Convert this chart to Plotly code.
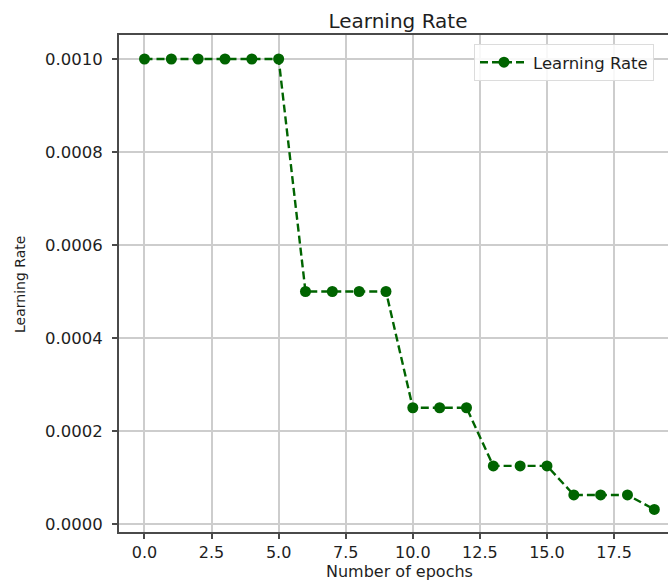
import plotly.graph_objects as go

# Learning-rate schedule per epoch (step decay, halved every few epochs)
epochs = list(range(20))
learning_rates = [0.001, 0.001, 0.001, 0.001, 0.001, 0.001,
                  0.0005, 0.0005, 0.0005, 0.0005,
                  0.00025, 0.00025, 0.00025,
                  0.000125, 0.000125, 0.000125,
                  0.0000625, 0.0000625, 0.0000625,
                  0.00003125]
x_ticks = [0.0, 2.5, 5.0, 7.5, 10.0, 12.5, 15.0, 17.5]
y_ticks = [0.0, 0.0002, 0.0004, 0.0006, 0.0008, 0.0010]

FONT = "DejaVu Sans"
TEXT = "#1e1e1e"
GREEN = "#006400"

W, H = 668, 582
ML, MT, MB = 119, 35, 50

fig = go.Figure()
fig.add_trace(go.Scatter(
    x=epochs, y=learning_rates, mode="lines+markers", name="Learning Rate",
    line=dict(color=GREEN, width=2.4, dash="8px,4px"),
    marker=dict(color=GREEN, size=11, symbol="circle"),
))

axis_common = dict(
    showgrid=True, gridcolor="#cdcdcd", gridwidth=1.5,
    showline=True, linecolor="#4a4a4a", linewidth=2,
    ticks="outside", ticklen=5, tickcolor="#4a4a4a", tickwidth=1.5,
    zeroline=False,
)

fig.update_layout(
    width=W, height=H,
    margin=dict(l=ML, r=0, t=MT, b=MB),
    paper_bgcolor="white", plot_bgcolor="white",
    font=dict(family=FONT, color=TEXT),
    showlegend=True,
    legend=dict(
        x=(474 - ML) / (W - ML), y=1 - (44 - MT) / (H - MT - MB),
        xanchor="left", yanchor="top", itemwidth=48,
        bgcolor="rgba(255,255,255,0.85)", bordercolor="#dcdcdc", borderwidth=1,
        font=dict(family=FONT, size=16.5, color=TEXT),
    ),
    xaxis=dict(
        range=[-0.95, 19.51], tickvals=x_ticks,
        ticktext=[f"{v:.1f}" for v in x_ticks],
        mirror=True, ticklabelstandoff=0,
        tickfont=dict(family=FONT, size=16, color=TEXT),
        **axis_common,
    ),
    yaxis=dict(
        range=[-0.0000172, 0.0010516], tickvals=y_ticks,
        ticktext=[f"{v:.4f}" for v in y_ticks],
        ticklabelstandoff=6,
        tickfont=dict(family=FONT, size=16.5, color=TEXT),
        **axis_common,
    ),
    title=dict(
        text="Learning Rate", x=398 / W, xanchor="center",
        y=1 - 21 / H, yanchor="middle", xref="container", yref="container",
        font=dict(family=FONT, size=20, color=TEXT),
    ),
)

# axis titles
fig.add_annotation(
    text="Number of epochs", xref="paper", yref="paper",
    x=(399 - ML) / (W - ML), y=-(571 - (H - MB)) / (H - MT - MB),
    xanchor="center", yanchor="middle", showarrow=False,
    font=dict(family=FONT, size=16, color=TEXT),
)
fig.add_annotation(
    text="Learning Rate", xref="paper", yref="paper",
    x=-(ML - 20) / (W - ML), y=1 - (285 - MT) / (H - MT - MB),
    xanchor="center", yanchor="middle", textangle=-90, showarrow=False,
    font=dict(family=FONT, size=14, color=TEXT),
)

fig.write_html("out.html")
